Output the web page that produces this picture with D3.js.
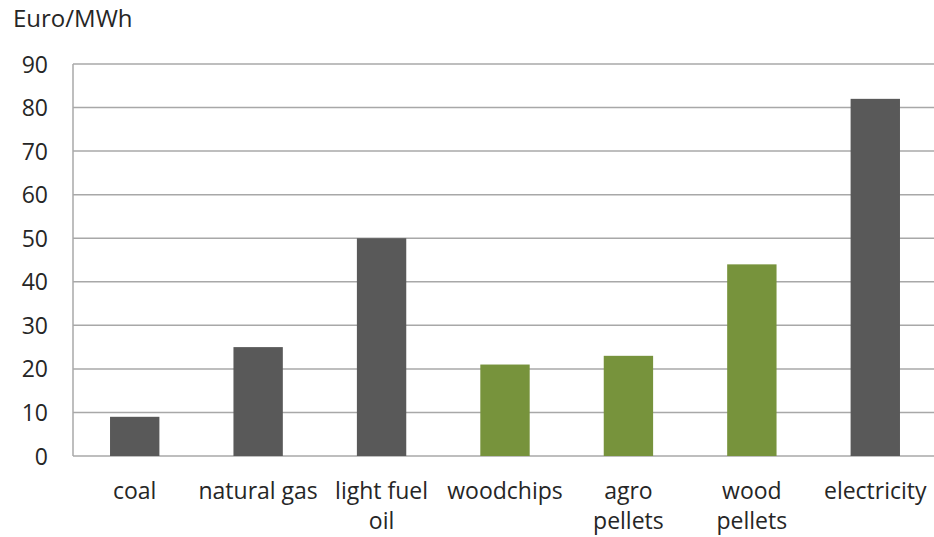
<!DOCTYPE html>
<html><head><meta charset="utf-8">
<script src="https://cdn.jsdelivr.net/npm/d3@7"></script>
<style>body{margin:0;background:#fff}</style>
</head><body>
<script>
const categories = ["coal", "natural gas", "light fuel oil", "woodchips", "agro pellets", "wood pellets", "electricity"];
const labelLines = [["coal"], ["natural gas"], ["light fuel", "oil"], ["woodchips"], ["agro", "pellets"], ["wood", "pellets"], ["electricity"]];
const values = [9, 25, 50, 21, 23, 44, 82];
const groups = ["fossil", "fossil", "fossil", "bio", "bio", "bio", "fossil"];
const yTicks = [0, 10, 20, 30, 40, 50, 60, 70, 80, 90];
const unitLabel = "Euro/MWh";

const W = 934, H = 537;
const m = {left: 73, right: -3, top: 64, bottom: 81};
const FONT = "'Open Sans', Lato, sans-serif";
const svg = d3.select("body").append("svg").attr("width", W).attr("height", H)
  .style("font-family", FONT);

const x = d3.scaleBand().domain(categories).range([m.left, W - m.right]).paddingInner(0.6).paddingOuter(0.3);
const y = d3.scaleLinear().domain([0, 90]).range([H - m.bottom, m.top]);
const color = {fossil: "#595959", bio: "#77933C"};

// gridlines
svg.append("g").selectAll("line").data(yTicks).join("line")
  .attr("x1", m.left).attr("x2", W).attr("y1", d => y(d)).attr("y2", d => y(d))
  .attr("stroke", "#a8a8a8").attr("stroke-width", 1.5);
// left axis line
svg.append("line").attr("x1", m.left).attr("x2", m.left).attr("y1", y(90)).attr("y2", y(0))
  .attr("stroke", "#a8a8a8").attr("stroke-width", 1.5);

// bars
svg.append("g").selectAll("rect").data(values).join("rect")
  .attr("x", (d, i) => x(categories[i])).attr("width", x.bandwidth())
  .attr("y", d => y(d)).attr("height", d => y(0) - y(d))
  .attr("fill", (d, i) => color[groups[i]]);

// y tick labels
const yAxis = d3.axisLeft(y).tickValues(yTicks).tickSize(0).tickPadding(0);
const ga = svg.append("g").attr("transform", `translate(${m.left - 25},0)`).call(yAxis);
ga.select(".domain").remove();
ga.selectAll("text").attr("font-size", 23).attr("fill", "#262626").attr("font-family", FONT).attr("dy", "0.35em");

// x labels
const gx = svg.append("g");
categories.forEach((c, i) => {
  const t = gx.append("text").attr("x", x(c) + x.bandwidth() / 2).attr("y", 499)
    .attr("text-anchor", "middle").attr("font-size", 23).attr("fill", "#262626");
  labelLines[i].forEach((l, j) => t.append("tspan").attr("x", x(c) + x.bandwidth() / 2).attr("dy", j ? 30 : 0).text(l));
});

svg.append("text").attr("x", 13).attr("y", 27).attr("font-size", 24).attr("fill", "#262626").text(unitLabel);
</script>
</body></html>
